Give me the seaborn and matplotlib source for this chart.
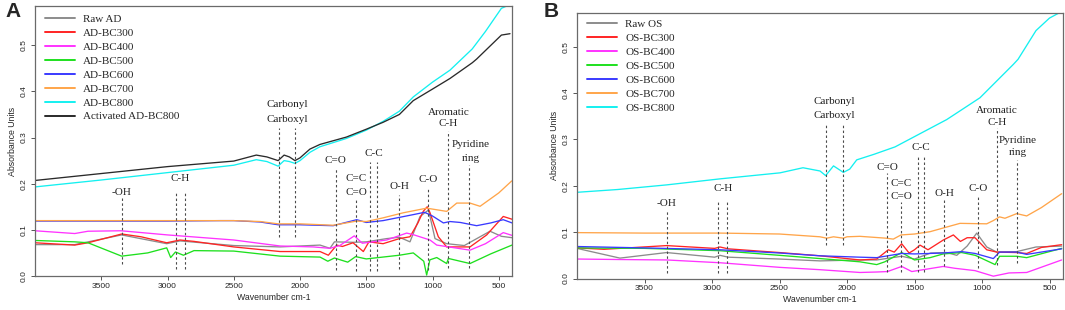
import matplotlib
matplotlib.use("Agg")
import matplotlib.pyplot as plt
import seaborn as sns

# ---- Panel A data (wavenumber, absorbance) ----
a_names = ["Raw AD", "AD-BC300", "AD-BC400", "AD-BC500", "AD-BC600",
           "AD-BC700", "AD-BC800", "Activated AD-BC800"]

raw_ad_wn = [4000, 3700, 3346, 3006, 2906, 2500, 2150, 1849, 1774, 1740, 1600, 1500,
             1346, 1250, 1170, 1094, 1030, 981, 893, 760, 566, 480, 400]
raw_ad_ab = [0.068, 0.068, 0.089, 0.070, 0.076, 0.066, 0.063, 0.067, 0.060, 0.074, 0.073, 0.074,
             0.081, 0.084, 0.074, 0.129, 0.143, 0.081, 0.070, 0.066, 0.097, 0.086, 0.083]

ad300_wn = [4000, 3700, 3600, 3346, 3200, 3006, 2906, 2800, 2500, 2150, 1849, 1786, 1723, 1680,
            1600, 1522, 1480, 1373, 1250, 1170, 1110, 1070, 1040, 1020, 956, 893, 717, 591, 466, 400]
ad300_ab = [0.072, 0.067, 0.072, 0.091, 0.085, 0.072, 0.078, 0.075, 0.063, 0.053, 0.053, 0.045, 0.067, 0.064,
            0.072, 0.053, 0.074, 0.070, 0.081, 0.085, 0.115, 0.140, 0.150, 0.138, 0.085, 0.063, 0.063, 0.089, 0.129, 0.123]

ad400_wn = [4000, 3700, 3600, 3350, 3000, 2500, 2150, 1900, 1774, 1700, 1590, 1530, 1346,
            1195, 1150, 1019, 968, 717, 600, 516, 466, 400]
ad400_ab = [0.098, 0.092, 0.097, 0.098, 0.089, 0.078, 0.065, 0.063, 0.060, 0.066, 0.087, 0.071, 0.078,
            0.093, 0.090, 0.078, 0.067, 0.056, 0.070, 0.085, 0.094, 0.088]

ad500_wn = [4000, 3700, 3600, 3346, 3150, 3006, 2976, 2940, 2880, 2800, 2500, 2150, 1849, 1790,
            1740, 1640, 1580, 1500, 1250, 1145, 1066, 1044, 1020, 968, 893, 880, 717, 560, 400]
ad500_ab = [0.077, 0.074, 0.072, 0.043, 0.050, 0.061, 0.040, 0.052, 0.045, 0.055, 0.054, 0.043, 0.041, 0.032,
            0.039, 0.030, 0.042, 0.037, 0.045, 0.050, 0.032, 0.002, 0.035, 0.040, 0.027, 0.038, 0.027, 0.048, 0.067]

ad600_wn = [4000, 3000, 2600, 2500, 2300, 2165, 2000, 1750, 1572, 1500, 1373, 1145, 1060,
            1000, 918, 868, 790, 667, 560, 466, 400]
ad600_ab = [0.119, 0.119, 0.120, 0.120, 0.117, 0.111, 0.111, 0.109, 0.122, 0.116, 0.120, 0.133, 0.138,
            0.130, 0.115, 0.118, 0.116, 0.109, 0.115, 0.122, 0.115]

ad700_wn = [4000, 3000, 2500, 2300, 2165, 2000, 1750, 1572, 1500, 1373, 1220, 1044, 893,
            817, 717, 641, 500, 402]
ad700_ab = [0.120, 0.120, 0.120, 0.118, 0.113, 0.113, 0.110, 0.119, 0.118, 0.126, 0.137, 0.147, 0.140,
            0.158, 0.158, 0.151, 0.180, 0.206]

ad800_wn = [4000, 3500, 3000, 2500, 2330, 2250, 2165, 2120, 2080, 2038, 2000, 1925, 1850, 1650,
            1500, 1373, 1250, 1145, 1000, 868, 700, 600, 480, 415]
ad800_ab = [0.193, 0.208, 0.224, 0.240, 0.252, 0.248, 0.238, 0.250, 0.248, 0.244, 0.250, 0.268, 0.280, 0.298,
            0.316, 0.335, 0.357, 0.388, 0.420, 0.446, 0.492, 0.530, 0.580, 0.588]

act800_wn = [4000, 3500, 3000, 2500, 2330, 2250, 2165, 2120, 2080, 2038, 2000, 1925, 1850, 1650,
             1500, 1373, 1250, 1145, 1000, 868, 700, 667, 480, 415]
act800_ab = [0.207, 0.222, 0.237, 0.249, 0.262, 0.258, 0.250, 0.262, 0.258, 0.250, 0.256, 0.275, 0.285, 0.301,
             0.318, 0.333, 0.350, 0.380, 0.405, 0.428, 0.462, 0.470, 0.522, 0.525]

# ---- Panel B data ----
b_names = ["Raw OS", "OS-BC300", "OS-BC400", "OS-BC500", "OS-BC600", "OS-BC700", "OS-BC800"]

raw_os_wn = [4000, 3682, 3336, 2980, 2941, 2880, 2500, 2200, 1904, 1780, 1595, 1500, 1380,
             1261, 1187, 1110, 1039, 965, 891, 743, 600, 410]
raw_os_ab = [0.065, 0.044, 0.056, 0.046, 0.050, 0.046, 0.042, 0.038, 0.040, 0.040, 0.048, 0.042, 0.055,
             0.056, 0.050, 0.070, 0.098, 0.068, 0.057, 0.058, 0.068, 0.070]

os300_wn = [4000, 3800, 3336, 2980, 2941, 2880, 2500, 2200, 1904, 1780, 1694, 1650, 1595, 1540,
            1500, 1459, 1400, 1287, 1212, 1160, 1110, 1052, 965, 891, 743, 669, 560, 410]
os300_ab = [0.066, 0.063, 0.071, 0.065, 0.068, 0.064, 0.056, 0.049, 0.040, 0.042, 0.062, 0.057, 0.075, 0.055,
            0.062, 0.072, 0.062, 0.083, 0.094, 0.080, 0.088, 0.088, 0.062, 0.057, 0.056, 0.054, 0.067, 0.073]

os400_wn = [4000, 3700, 3336, 2941, 2496, 2200, 1904, 1780, 1700, 1595, 1520, 1287, 1200,
            1052, 916, 800, 669, 410]
os400_ab = [0.042, 0.041, 0.040, 0.034, 0.024, 0.019, 0.013, 0.014, 0.015, 0.026, 0.015, 0.026, 0.022,
            0.017, 0.005, 0.012, 0.013, 0.040]

os500_wn = [4000, 3500, 2941, 2500, 2200, 1904, 1780, 1720, 1595, 1500, 1385, 1287, 1151,
            1050, 903, 870, 743, 669, 410]
os500_ab = [0.066, 0.065, 0.060, 0.050, 0.043, 0.036, 0.030, 0.036, 0.056, 0.040, 0.045, 0.053, 0.056,
            0.050, 0.030, 0.048, 0.048, 0.045, 0.065]

os600_wn = [4000, 3500, 2941, 2500, 2200, 1904, 1780, 1595, 1500, 1287, 1150, 1050, 916,
            870, 743, 669, 410]
os600_ab = [0.069, 0.066, 0.062, 0.055, 0.049, 0.046, 0.045, 0.054, 0.053, 0.055, 0.058, 0.054, 0.043,
            0.057, 0.057, 0.052, 0.064]

os700_wn = [4000, 3500, 2941, 2500, 2200, 2150, 2100, 2027, 2000, 1904, 1711, 1657, 1600,
            1500, 1385, 1287, 1163, 965, 916, 870, 830, 743, 669, 560, 410]
os700_ab = [0.099, 0.098, 0.098, 0.096, 0.090, 0.087, 0.090, 0.087, 0.090, 0.091, 0.087, 0.085, 0.094,
            0.096, 0.101, 0.109, 0.119, 0.118, 0.125, 0.133, 0.130, 0.140, 0.135, 0.153, 0.183]

os800_wn = [4000, 3700, 3336, 2941, 2496, 2326, 2200, 2158, 2100, 2027, 1980, 1928, 1800,
            1644, 1261, 1015, 768, 733, 600, 500, 410]
os800_ab = [0.186, 0.192, 0.202, 0.215, 0.228, 0.239, 0.232, 0.222, 0.243, 0.229, 0.236, 0.256, 0.268,
            0.284, 0.343, 0.390, 0.462, 0.473, 0.535, 0.562, 0.576]

# ---- band markers: dashed line position, top, bottom ----
a_band_wn = [3346, 2936, 2866, 2158, 2038, 1731, 1577, 1472, 1421, 1250, 1036, 880, 724]
a_band_top = [0.172, 0.181, 0.181, 0.320, 0.320, 0.234, 0.168, 0.248, 0.248, 0.176, 0.190, 0.314, 0.241]
a_band_bot = [0.026, 0.016, 0.016, 0.084, 0.084, 0.013, 0.011, 0.011, 0.011, 0.016, 0.013, 0.018, 0.018]
a_text = ["-OH", "C-H", "Carbonyl", "Carboxyl", "C=O", "C=C", "C=O", "C-C", "O-H", "C-O",
          "Aromatic", "C-H", "Pyridine", "ring"]
a_text_wn = [3346, 2901, 2098, 2098, 1731, 1577, 1577, 1446, 1250, 1036, 880, 880, 712, 712]
a_text_y = [0.180, 0.211, 0.372, 0.339, 0.251, 0.212, 0.180, 0.266, 0.193, 0.208, 0.354, 0.330, 0.284, 0.255]

b_band_wn = [3336, 2956, 2887, 2158, 2027, 1701, 1600, 1476, 1430, 1281, 1027, 891, 738]
b_band_top = [0.145, 0.168, 0.168, 0.331, 0.331, 0.227, 0.165, 0.263, 0.263, 0.170, 0.180, 0.324, 0.256]
b_band_bot = [0.011, 0.011, 0.011, 0.073, 0.073, 0.013, 0.013, 0.013, 0.013, 0.026, 0.022, 0.029, 0.033]
b_text = ["-OH", "C-H", "Carbonyl", "Carboxyl", "C=O", "C=C", "C=O", "C-C", "O-H", "C-O",
          "Aromatic", "C-H", "Pyridine", "ring"]
b_text_wn = [3336, 2921, 2095, 2095, 1701, 1600, 1600, 1453, 1281, 1027, 891, 891, 733, 733]
b_text_y = [0.161, 0.195, 0.381, 0.352, 0.239, 0.206, 0.177, 0.282, 0.183, 0.194, 0.363, 0.336, 0.298, 0.271]

colors = ["#8c8c8c", "#ff2424", "#ff33ff", "#1ee01e", "#3a3aff", "#ffa54a", "#14f0f0", "#2a2a2a"]

a_series = [(raw_ad_wn, raw_ad_ab), (ad300_wn, ad300_ab), (ad400_wn, ad400_ab), (ad500_wn, ad500_ab),
            (ad600_wn, ad600_ab), (ad700_wn, ad700_ab), (ad800_wn, ad800_ab), (act800_wn, act800_ab)]
b_series = [(raw_os_wn, raw_os_ab), (os300_wn, os300_ab), (os400_wn, os400_ab), (os500_wn, os500_ab),
            (os600_wn, os600_ab), (os700_wn, os700_ab), (os800_wn, os800_ab)]

sns.set_style("ticks")
plt.rcParams["font.family"] = ["Liberation Sans", "DejaVu Sans"]
SERIF = ["Liberation Serif", "DejaVu Serif"]


def draw_panel(ax, names, series, band_wn, band_top, band_bot, text, text_wn, text_y, ytop, leg_anchor):
    for name, (wn, ab), c in zip(names, series, colors):
        sns.lineplot(x=wn, y=ab, ax=ax, color=c, lw=0.95, label=name, sort=False, estimator=None)

    ax.vlines(band_wn, band_bot, band_top, colors="#4a4a4a", linestyles=(0, (2.2, 2.2)), lw=0.8)
    for t, x, y in zip(text, text_wn, text_y):
        ax.text(x, y, t, ha="center", va="center", fontsize=8, family=SERIF, color="#222222")

    ax.set_xlim(4000, 400)
    ax.set_ylim(0, ytop)
    ax.set_xticks([3500, 3000, 2500, 2000, 1500, 1000, 500])
    ax.set_yticks([0.0, 0.1, 0.2, 0.3, 0.4, 0.5])
    ax.set_yticklabels(["0.0", "0.1", "0.2", "0.3", "0.4", "0.5"], rotation=90, va="center")
    ax.tick_params(labelsize=6, length=3, width=0.7, color="#555555", pad=2)
    for s in ax.spines.values():
        s.set_color("#6a6a6a")
        s.set_linewidth(0.9)
    ax.set_xlabel("Wavenumber cm-1", fontsize=6.3, labelpad=2)
    ax.set_ylabel("Absorbance Units", fontsize=6.3, labelpad=3)

    leg = ax.legend(loc="upper left", bbox_to_anchor=leg_anchor, frameon=False, borderpad=0,
                    borderaxespad=0, handlelength=2.7, handletextpad=0.75, labelspacing=0.375,
                    prop={"family": SERIF, "size": 8})
    for h in leg.get_lines():
        h.set_linewidth(1.4)


fig = plt.figure(figsize=(10.65, 3.1), dpi=100)
ax_a = fig.add_axes([35 / 1065, 34 / 310, 477 / 1065, 270 / 310])
ax_b = fig.add_axes([577 / 1065, 31.5 / 310, 486 / 1065, 266 / 310])

draw_panel(ax_a, a_names, a_series, a_band_wn, a_band_top, a_band_bot,
           a_text, a_text_wn, a_text_y, 0.585, (0.021, 0.970))
draw_panel(ax_b, b_names, b_series, b_band_wn, b_band_top, b_band_bot,
           b_text, b_text_wn, b_text_y, 0.574, (0.020, 0.974))

fig.text(5 / 1065, 1 - 2 / 310, "A", fontsize=15, fontweight="bold", va="top", ha="left")
fig.text(544 / 1065, 1 - 2 / 310, "B", fontsize=15, fontweight="bold", va="top", ha="left")

fig.savefig("out.png", dpi=100)
